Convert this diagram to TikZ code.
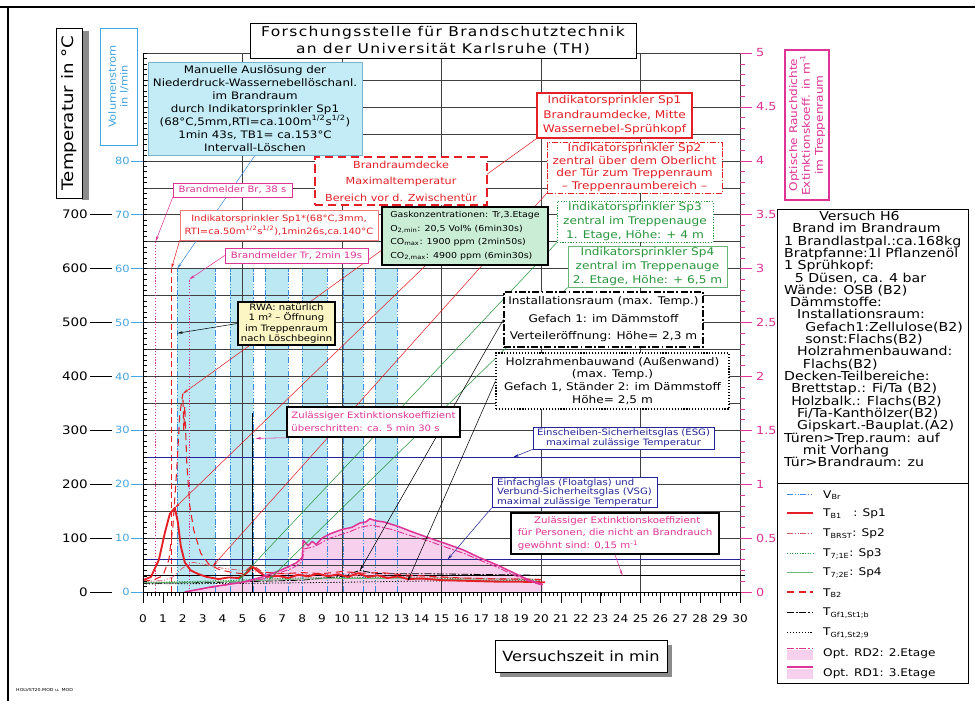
\documentclass[tikz,border=0pt]{standalone}
\usepackage{fontspec}
\setmainfont{DejaVu Sans}[FakeStretch=1.15]
\newfontfamily\titlefont{DejaVu Sans}[FakeStretch=1.15,LetterSpace=10]
\usetikzlibrary{calc,arrows.meta}
\pgfdeclarelayer{plotlayer}
\pgfdeclarelayer{leadlayer}
\pgfsetlayers{plotlayer,leadlayer,main}

\definecolor{sprred}{RGB}{228,32,38}
\definecolor{brstred}{RGB}{215,85,105}
\definecolor{rdpink}{RGB}{222,52,150}
\definecolor{rdfill}{RGB}{246,208,236}
\definecolor{vbrcyan}{RGB}{188,232,243}
\definecolor{vbrblue}{RGB}{58,140,222}
\definecolor{volblue}{RGB}{70,165,225}
\definecolor{glasblue}{RGB}{36,36,150}
\definecolor{sprgreen}{RGB}{40,150,60}
\definecolor{gasgreen}{RGB}{202,237,214}
\definecolor{rwayellow}{RGB}{252,246,196}
\definecolor{manfill}{RGB}{196,236,246}
\definecolor{manedge}{RGB}{120,180,205}
\definecolor{shadowgrey}{RGB}{140,140,140}

\newcommand\fsz[2]{\fontsize{#1}{#2}\selectfont}
\def\cadnode{\node[cadbox]}
\def\drawlead{\draw[leader]}

\tikzset{
  cadbox/.style={draw, fill=white, inner sep=1pt, align=center, line width=0.5pt},
  boxsize/.style 2 args={minimum width=#1*0.3mm, minimum height=#2*0.3mm},
  heavy/.style={line width=1.3pt},
  gridline/.style={black!75, line width=0.4pt},
  axisline/.style={black, line width=0.5pt},
  leader/.style={line width=0.45pt, -{Stealth[length=5pt,width=2.2pt]}},
  templbl/.style={font=\fsz{10}{12}, inner sep=0pt, anchor=east},
  vollbl/.style={font=\fsz{8.5}{10}, text=volblue, inner sep=0pt, anchor=east},
  rdlbl/.style={font=\fsz{9.5}{11}, text=rdpink, inner sep=0pt, anchor=west},
  timelbl/.style={font=\fsz{9}{11}, inner sep=0pt},
  legentry/.style={font=\fsz{9}{11}, inner sep=0pt, anchor=west},
  vbrline/.style={vbrblue, line width=0.6pt, dash pattern=on 5pt off 1.5pt on 1pt off 1.5pt on 1pt off 1.5pt},
  tbone/.style={sprred, line width=1.6pt, line join=round},
  tbrst/.style={brstred, line width=0.6pt, dash pattern=on 5pt off 1.5pt on 1pt off 1.5pt on 1pt off 1.5pt},
  tsevenone/.style={sprgreen, line width=0.8pt, dash pattern=on 1pt off 1.2pt},
  tseventwo/.style={sprgreen!70, line width=0.6pt},
  tbtwo/.style={sprred, line width=0.9pt, dash pattern=on 6pt off 4pt},
  tgfone/.style={black, line width=0.7pt, dash pattern=on 6pt off 1.5pt on 1.5pt off 1.5pt},
  tgftwo/.style={black, line width=0.7pt, dash pattern=on 1pt off 1.5pt},
  rdtwo/.style={rdpink, line width=0.8pt, dash pattern=on 6pt off 1.5pt on 1.5pt off 1.5pt},
  rdone/.style={rdpink, line width=1.3pt, line join=round},
  glasline/.style={glasblue, line width=1pt},
}

\begin{document}
\begin{tikzpicture}[x=0.3mm,y=-0.3mm,font=\fsz{9}{11}]
\useasboundingbox (0,0) rectangle (975,701);

% -------- frame --------
\coordinate (frame_tl) at (8,7);
\coordinate (frame_tr) at (975,7);
\coordinate (frame_bl) at (8,701);
\draw[line width=1.4pt] (0,7) -- (frame_tr);
\draw[line width=0.9pt] (frame_tl) -- (frame_bl);

\begin{pgfonlayer}{plotlayer}
\fill[white] (0,0) rectangle (975,701);
% -------- fills: water flow and smoke density --------
% data scope: x in min, y in degC (1/m is drawn as 200 degC)
\begin{scope}[shift={(143,592)},x=5.97mm,y=0.1617mm]
\foreach \ta/\tb in {1.72/3.62,4.37/5.54,6.13/7.29,7.99/9.25,10.05/11.05,11.66/12.76}
  \fill[vbrcyan] (\ta,0) rectangle (\tb,600);
\fill[rdfill] plot coordinates {(2.1,0) (3.5,10) (5.0,18) (6.0,28) (6.9,40) (7.7,54) (8.0,64) (8.05,96) (8.3,86) (8.5,94) (8.7,88) (9.0,100) (9.4,108) (10.0,116) (10.5,120) (10.9,128) (11.2,130) (11.4,136) (11.7,132) (12.1,130) (12.8,122) (13.5,112) (14.4,100) (15.2,90) (16.1,78) (16.9,64) (17.8,50) (18.6,36) (19.4,22) (20.1,14)} -- (20.1,0) -- cycle;
\end{scope}

% -------- grid --------
\foreach \k in {0,...,20} \draw[gridline] (143,{592-26.95*\k}) -- (740,{592-26.95*\k});
\foreach \k in {0,...,6} \draw[gridline] ({143+99.5*\k},53) -- ({143+99.5*\k},592);

% -------- curves --------
\begin{scope}[shift={(143,592)},x=5.97mm,y=0.1617mm]
% targets of the leader lines
\coordinate (br_hit) at (0.63,650);
\coordinate (br_bot) at (0.63,0);
\coordinate (sp1s_hit) at (1.43,600);
\coordinate (sp1s_bot) at (1.43,0);
\coordinate (tr_hit) at (2.32,580);
\coordinate (tr_bot) at (2.32,0);
\coordinate (man_hit) at (1.72,600);
\coordinate (rwa_hit) at (1.71,480);
\coordinate (tb1_peak) at (1.6,156);
\coordinate (tb2_peak) at (2.0,368);
\coordinate (tbrst_hit) at (3.5,48);
\coordinate (tsevenone_hit) at (4.8,22);
\coordinate (tseventwo_hit) at (6.3,22);
\coordinate (tgfone_hit) at (10.9,40);
\coordinate (tgftwo_hit) at (13.3,20);
\coordinate (extmark_top) at (5.5,332);
\coordinate (extmark_bot) at (5.5,0);
\coordinate (extmark_hit) at (5.65,285);
\coordinate (esg_l) at (0,250);
\coordinate (esg_r) at (30,250);
\coordinate (esg_hit) at (18.6,250);
\coordinate (vsg_l) at (0,60);
\coordinate (vsg_r) at (30,60);
\coordinate (vsg_hit) at (15.3,60);
\coordinate (ext_l) at (0,30);
\coordinate (ext_r) at (30.25,30);
\coordinate (ext_hit) at (24.1,30);

% water flow edges
\foreach \t in {1.72,3.62,4.37,5.54,6.13,7.29,7.99,9.25,10.05,11.05,11.66,12.76}
  \draw[vbrline] (\t,0) -- (\t,600);

% detector and sprinkler marks
\draw[rdpink, line width=0.8pt, dash pattern=on 1pt off 1.5pt] (br_bot) -- (br_hit);
\draw[sprred, line width=1pt, dash pattern=on 5pt off 3pt] (sp1s_bot) -- (sp1s_hit);
\draw[rdpink, line width=0.8pt, dash pattern=on 1pt off 1.5pt] (tr_bot) -- (tr_hit);
\draw[black, heavy] (extmark_bot) -- (extmark_top);

% limit lines
\draw[glasline] (esg_l) -- (esg_r);
\draw[glasline] (vsg_l) -- (vsg_r);
\draw[black, line width=1.1pt] (ext_l) -- (ext_r);

% temperatures
\draw[tgftwo] plot coordinates {(0,15) (5,16) (10,18) (13.3,20) (16,21) (20,21)};
\draw[tgfone] plot coordinates {(0,16) (4,18) (8,22) (10,29) (10.9,40) (11.6,35) (12,34) (14,34) (16,33) (18,32) (20,31)};
\draw[tseventwo] plot coordinates {(0,17) (2,18) (4,19) (6.3,22) (8,24) (10,25) (12,25) (14,24) (16,23) (18,22) (20,22)};
\draw[tsevenone] plot coordinates {(0,18) (2,19) (3,20) (4,21) (4.8,22) (6,24) (8,26) (10,27) (12,27) (14,26) (16,25) (18,24) (20,23)};
\draw[tbrst] plot coordinates {(0,20) (1,21) (1.5,28) (2,45) (2.5,55) (3,52) (3.5,48) (4,44) (5,40) (6,36) (7,34) (8,33) (10,31) (12,30) (14,28) (16,26) (18,25) (20,24)};
\draw[tbtwo] plot coordinates {(0,20) (0.5,22) (1.0,30) (1.3,60) (1.5,120) (1.7,230) (1.85,330) (2.0,368) (2.05,300) (2.1,345) (2.2,240) (2.35,160) (2.55,115) (2.9,72) (3.3,52) (3.8,42) (4.5,36) (5.0,34) (5.5,50) (6.0,37) (7.0,34) (8.0,36) (9.0,34) (10.0,38) (11.0,35) (12.0,36) (13.0,32) (14.0,30) (15.0,28) (16.0,26) (17.0,25) (18.0,24) (19.0,24) (20.0,23)};
\draw[tbone] plot coordinates {(0,22) (0.4,28) (0.8,60) (1.1,110) (1.35,145) (1.6,156) (1.75,130) (1.9,85) (2.1,55) (2.4,40) (2.8,33) (3.2,28) (3.8,24) (4.3,27) (4.8,26) (5.2,35) (5.5,47) (5.8,38) (6.2,28) (6.8,30) (7.3,26) (7.8,32) (8.3,29) (8.8,34) (9.3,29) (9.8,33) (10.3,28) (10.8,35) (11.3,28) (11.8,31) (12.3,26) (12.8,29) (13.3,24) (14,25) (15,22) (16,21) (17,20) (18,19) (19,19) (20.2,18)};

% smoke density (1/m * 200)
\draw[rdtwo] plot coordinates {(2.1,0) (4,12) (6,24) (7.5,44) (8.0,56) (8.1,80) (8.6,84) (9.4,100) (10.4,112) (10.9,120) (11.5,124) (12.5,116) (13.5,104) (14.4,94) (15.3,82) (16.1,72) (17.0,58) (17.8,46) (18.6,32) (19.4,20) (20.1,12)};
\draw[rdone] plot coordinates {(2.1,0) (3.5,10) (5.0,18) (6.0,28) (6.9,40) (7.7,54) (8.0,64) (8.05,96) (8.3,86) (8.5,94) (8.7,88) (9.0,100) (9.4,108) (10.0,116) (10.5,120) (10.9,128) (11.2,130) (11.4,136) (11.7,132) (12.1,130) (12.8,122) (13.5,112) (14.4,100) (15.2,90) (16.1,78) (16.9,64) (17.8,50) (18.6,36) (19.4,22) (20.1,14)};
\end{scope}
\end{pgfonlayer}

% -------- axes --------
\draw[axisline, line width=0.8pt] (143,53) -- (143,592) -- (740,592);
\foreach \k in {0,...,100} \draw[axisline, line width=0.35pt] (143,{592-5.39*\k}) -- (147,{592-5.39*\k});
\foreach \k in {0,...,7} {
  \node[templbl] (temp_lbl\k) at (88,{592-53.9*\k}) {\ifnum\k=0 0\else\k00\fi};
  \draw[axisline] (90,{592-53.9*\k}) -- (112,{592-53.9*\k});
  \node[vollbl] (vol_lbl\k) at (130,{592-53.9*\k}) {\ifnum\k=0 0\else\k0\fi};
  \draw[volblue, line width=0.5pt] (131,{592-53.9*\k}) -- (143,{592-53.9*\k});
}
\node[vollbl] (vol_lbl8) at (130,161) {80};
\draw[volblue, line width=0.5pt] (131,161) -- (143,161);

% right axis: smoke density
\foreach \k in {0,...,50} \draw[rdpink, line width=0.4pt] (740,{592-10.78*\k}) -- (745,{592-10.78*\k});
\foreach \k/\lab in {0/0,1/0.5,2/1,3/1.5,4/2,5/2.5,6/3,7/3.5,8/4,9/4.5,10/5} {
  \draw[rdpink, line width=0.5pt] (740,{592-53.9*\k}) -- (752,{592-53.9*\k});
  \node[rdlbl] (rd_lbl\k) at (756,{592-53.9*\k}) {\lab};
}

% time axis
\foreach \k in {0,...,150} \draw[axisline, line width=0.35pt] ({143+3.98*\k},592) -- ({143+3.98*\k},596);
\foreach \k in {0,...,30} {
  \draw[axisline] ({143+19.9*\k},592) -- ({143+19.9*\k},603);
  \node[timelbl] (time_lbl\k) at ({143+19.9*\k},619) {\k};
}

% -------- axis titles --------
\fill[shadowgrey] (82,31) rectangle (89,200);
\cadnode[rotate=90, boxsize={170}{26}, font=\fsz{13.5}{15}] (temp_box) at (69,113) {Temperatur in °C};
\cadnode[rotate=90, boxsize={117}{37}, draw=volblue, text=volblue, font=\fsz{8.5}{10}] (vol_box) at (118.5,86.5) {Volumenstrom\\in l/min};
\cadnode[rotate=90, boxsize={150}{44}, draw=rdpink, text=rdpink, line width=1pt, font=\fsz{9}{11}] (rdaxis_box) at (807,125) {Optische Rauchdichte\\Extinktionskoeff. in m\textsuperscript{-1}\\im Treppenraum};
\fill[shadowgrey] (500,645) rectangle (672,677);
\cadnode[boxsize={172}{32}, font=\fsz{12}{14}] (time_box) at (581,656) {Versuchszeit in min};
\cadnode[boxsize={386}{35}, font=\titlefont\fsz{11.5}{14.5}] (title_box) at (443,40.5) {Forschungsstelle für Brandschutztechnik\\an der Universität Karlsruhe (TH)};

% -------- event boxes, left --------
\cadnode[boxsize={214}{93}, fill=manfill, draw=manedge, font=\fsz{8.8}{11}] (man_box) at (255,108.5) {Manuelle Auslösung der\\Niederdruck-Wassernebellöschanl.\\im Brandraum\\durch Indikatorsprinkler Sp1\\(68°C,5mm,RTI=ca.100m\textsuperscript{1/2}s\textsuperscript{1/2})\\1min 43s, TB1= ca.153°C\\Intervall-Löschen};
\cadnode[boxsize={119}{14}, draw=rdpink, text=rdpink, font=\fsz{7.5}{9}] (br_box) at (232.5,190) {Brandmelder Br, 38 s};
\cadnode[boxsize={172}{48}, draw=sprred, text=sprred, line width=1pt, dash pattern=on 7pt off 4pt, font=\fsz{8.3}{14}] (rd_box) at (401,181) {Brandraumdecke\\Maximaltemperatur\\Bereich vor d. Zwischentür};
\cadnode[boxsize={198}{30}, draw=sprred!60, text=sprred, font=\fsz{7.4}{11}] (sp1s_box) at (279,225) {Indikatorsprinkler Sp1*(68°C,3mm,\\RTI=ca.50m\textsuperscript{1/2}s\textsuperscript{1/2}),1min26s,ca.140°C};
\cadnode[boxsize={143}{15}, draw=rdpink, text=rdpink, font=\fsz{7.5}{9}] (tr_box) at (296.5,255.5) {Brandmelder Tr, 2min 19s};
\cadnode[boxsize={166}{58}, fill=gasgreen, line width=1.1pt, align=left, font=\fsz{7}{11.5}] (gas_box) at (465,236) {Gaskonzentrationen: Tr,3.Etage\\O\textsubscript{2,min}: 20,5 Vol\% (6min30s)\\CO\textsubscript{max}: 1900 ppm (2min50s)\\CO\textsubscript{2,max}: 4900 ppm (6min30s)};
\cadnode[boxsize={97}{43}, fill=rwayellow, line width=1.1pt, font=\fsz{7.5}{9}] (rwa_box) at (286.5,323.5) {RWA: natürlich\\1 m² – Öffnung\\im Treppenraum\\nach Löschbeginn};
\cadnode[boxsize={173}{30}, line width=1.3pt, text=rdpink, align=left, font=\fsz{7.5}{11}] (ext1_box) at (373.5,422) {Zulässiger Extinktionskoeffizient\\überschritten: ca. 5 min 30 s};

% -------- sprinkler boxes, right --------
\cadnode[boxsize={155}{45}, draw=sprred, text=sprred, line width=1.3pt, font=\fsz{9}{12.3}] (sp1_box) at (614.5,115.5) {Indikatorsprinkler Sp1\\Brandraumdecke, Mitte\\Wassernebel-Sprühkopf};
\cadnode[boxsize={175}{51}, draw=sprred, text=sprred, dash pattern=on 5pt off 1.5pt on 1pt off 1.5pt, font=\fsz{9}{10.6}] (sp2_box) at (634.5,167.5) {Indikatorsprinkler Sp2\\zentral über dem Oberlicht\\der Tür zum Treppenraum\\– Treppenraumbereich –};
\cadnode[boxsize={156}{40}, draw=sprgreen, text=sprgreen, line width=0.7pt, dash pattern=on 1pt off 1.3pt, font=\fsz{9}{12}] (sp3_box) at (635,222) {Indikatorsprinkler Sp3\\zentral im Treppenauge\\1. Etage, Höhe: + 4 m};
\cadnode[boxsize={159}{40}, draw=sprgreen!70, text=sprgreen, font=\fsz{9}{12}] (sp4_box) at (647.5,267) {Indikatorsprinkler Sp4\\zentral im Treppenauge\\2. Etage, Höhe: + 6,5 m};
\cadnode[boxsize={199}{55}, line width=1pt, dash pattern=on 6pt off 2pt on 1.5pt off 2pt, font=\fsz{9}{15}] (inst_box) at (603.5,319.5) {Installationsraum (max. Temp.)\\Gefach 1: im Dämmstoff\\Verteileröffnung: Höhe= 2,3 m};
\cadnode[boxsize={233}{56}, line width=0.9pt, dash pattern=on 1pt off 1.5pt, font=\fsz{9}{11}] (holz_box) at (612.5,381) {Holzrahmenbauwand (Außenwand)\\(max. Temp.)\\Gefach 1, Ständer 2: im Dämmstoff\\Höhe= 2,5 m};
\cadnode[boxsize={181}{22}, draw=glasblue, text=glasblue, font=\fsz{7.5}{8.5}] (esg_box) at (623.5,438) {Einscheiben-Sicherheitsglas (ESG)\\maximal zulässige Temperatur};
\cadnode[boxsize={165}{29}, draw=glasblue, text=glasblue, align=left, font=\fsz{7.5}{8.2}] (vsg_box) at (574.5,492.5) {Einfachglas (Floatglas) und\\Verbund-Sicherheitsglas (VSG)\\maximal zulässige Temperatur};
\cadnode[boxsize={208}{41}, line width=1.3pt, text=rdpink, align=left, font=\fsz{7.6}{11}] (ext2_box) at (615,533.5) {\hspace*{14pt}Zulässiger Extinktionskoeffizient\\für Personen, die nicht an Brandrauch\\gewöhnt sind: 0,15 m\textsuperscript{-1}};

% -------- leader lines --------
\begin{pgfonlayer}{leadlayer}
\drawlead[vbrblue] (man_box.south) -- (man_hit);
\drawlead[rdpink] (br_box.south west) -- (br_hit);
\drawlead[sprred] (sp1s_box.south west) -- (sp1s_hit);
\drawlead[rdpink] (tr_box.west) -- (tr_hit);
\drawlead[sprred] (rd_box.south east) -- (tb1_peak);
\drawlead[sprred] (sp1_box.south west) -- (tb2_peak);
\drawlead[sprred] (sp2_box.south west) -- (tbrst_hit);
\drawlead[sprgreen] (sp3_box.south west) -- (tsevenone_hit);
\drawlead[sprgreen] (sp4_box.south west) -- (tseventwo_hit);
\drawlead[black] (inst_box.west) -- (tgfone_hit);
\drawlead[black] (holz_box.west) -- (tgftwo_hit);
\drawlead[black] (rwa_box.west) -- (rwa_hit);
\drawlead[rdpink] (ext1_box.south west) -- (extmark_hit);
\drawlead[glasblue] (esg_box.south west) -- (esg_hit);
\drawlead[glasblue] (vsg_box.south west) -- (vsg_hit);
\drawlead[rdpink] (ext2_box.south) -- (ext_hit);
\end{pgfonlayer}

% -------- legend --------
\cadnode[boxsize={191}{474}, anchor=north west, line width=0.6pt] (leg_box) at (777,209) {};
\coordinate (legdiv_l) at (777,483);
\coordinate (legdiv_r) at (968,483);
\draw[line width=0.6pt] (legdiv_l) -- (legdiv_r);
\node[anchor=north west, align=left, inner sep=0pt, font=\fsz{10.5}{10.5}] (leg_text) at (784,211) {%
\hspace*{30pt}Versuch H6\\
\hspace*{7pt}Brand im Brandraum\\
1 Brandlastpal.:ca.168kg\\
Bratpfanne:1l Pflanzenöl\\
1 Sprühkopf:\\
\hspace*{9pt}5 Düsen, ca. 4 bar\\
Wände: OSB (B2)\\
\hspace*{5pt}Dämmstoffe:\\
\hspace*{11pt}Installationsraum:\\
\hspace*{18pt}Gefach1:Zellulose(B2)\\
\hspace*{18pt}sonst:Flachs(B2)\\
\hspace*{11pt}Holzrahmenbauwand:\\
\hspace*{16pt}Flachs(B2)\\
Decken-Teilbereiche:\\
\hspace*{6pt}Brettstap.: Fi/Ta (B2)\\
\hspace*{6pt}Holzbalk.: Flachs(B2)\\
\hspace*{11pt}Fi/Ta-Kanthölzer(B2)\\
\hspace*{11pt}Gipskart.-Bauplat.(A2)\\
Türen>Trep.raum: auf\\
\hspace*{16pt}mit Vorhang\\
Tür>Brandraum: zu};

\coordinate (leg_vbr_a) at (787,494); \coordinate (leg_vbr_b) at (813,494);
\draw[vbrline] (leg_vbr_a) -- (leg_vbr_b);
\node[legentry] (leg_vbr) at (823,495) {V\textsubscript{Br}};
\coordinate (leg_tbone_a) at (787,513); \coordinate (leg_tbone_b) at (813,513);
\draw[tbone] (leg_tbone_a) -- (leg_tbone_b);
\node[legentry] (leg_tbone) at (823,514) {T\textsubscript{B1}\ \ \ : Sp1};
\coordinate (leg_tbrst_a) at (787,533); \coordinate (leg_tbrst_b) at (813,533);
\draw[tbrst] (leg_tbrst_a) -- (leg_tbrst_b);
\node[legentry] (leg_tbrst) at (823,534) {T\textsubscript{BRST}: Sp2};
\coordinate (leg_tsevenone_a) at (787,553); \coordinate (leg_tsevenone_b) at (813,553);
\draw[tsevenone] (leg_tsevenone_a) -- (leg_tsevenone_b);
\node[legentry] (leg_tsevenone) at (823,554) {T\textsubscript{7;1E}: Sp3};
\coordinate (leg_tseventwo_a) at (787,572); \coordinate (leg_tseventwo_b) at (813,572);
\draw[tseventwo] (leg_tseventwo_a) -- (leg_tseventwo_b);
\node[legentry] (leg_tseventwo) at (823,573) {T\textsubscript{7;2E}: Sp4};
\coordinate (leg_tbtwo_a) at (787,592); \coordinate (leg_tbtwo_b) at (813,592);
\draw[tbtwo] (leg_tbtwo_a) -- (leg_tbtwo_b);
\node[legentry] (leg_tbtwo) at (823,593) {T\textsubscript{B2}};
\coordinate (leg_tgfone_a) at (787,612); \coordinate (leg_tgfone_b) at (813,612);
\draw[tgfone] (leg_tgfone_a) -- (leg_tgfone_b);
\node[legentry] (leg_tgfone) at (823,613) {T\textsubscript{Gf1,St1;b}};
\coordinate (leg_tgftwo_a) at (787,632); \coordinate (leg_tgftwo_b) at (813,632);
\draw[tgftwo] (leg_tgftwo_a) -- (leg_tgftwo_b);
\node[legentry] (leg_tgftwo) at (823,633) {T\textsubscript{Gf1,St2;9}};
\fill[rdfill] (787,650) rectangle (813,660);
\coordinate (leg_rdtwo_a) at (787,648); \coordinate (leg_rdtwo_b) at (813,648);
\draw[rdtwo] (leg_rdtwo_a) -- (leg_rdtwo_b);
\node[legentry] (leg_rdtwo) at (823,654) {Opt. RD2: 2.Etage};
\fill[rdfill] (787,669) rectangle (813,679);
\coordinate (leg_rdone_a) at (787,667); \coordinate (leg_rdone_b) at (813,667);
\draw[rdone] (leg_rdone_a) -- (leg_rdone_b);
\node[legentry] (leg_rdone) at (823,674) {Opt. RD1: 3.Etage};

% file tag
\node[anchor=west, inner sep=0pt, font=\fsz{3.5}{4}] (file_tag) at (16,690) {HOLVST20.MOD u. MOD};
\end{tikzpicture}
\end{document}
